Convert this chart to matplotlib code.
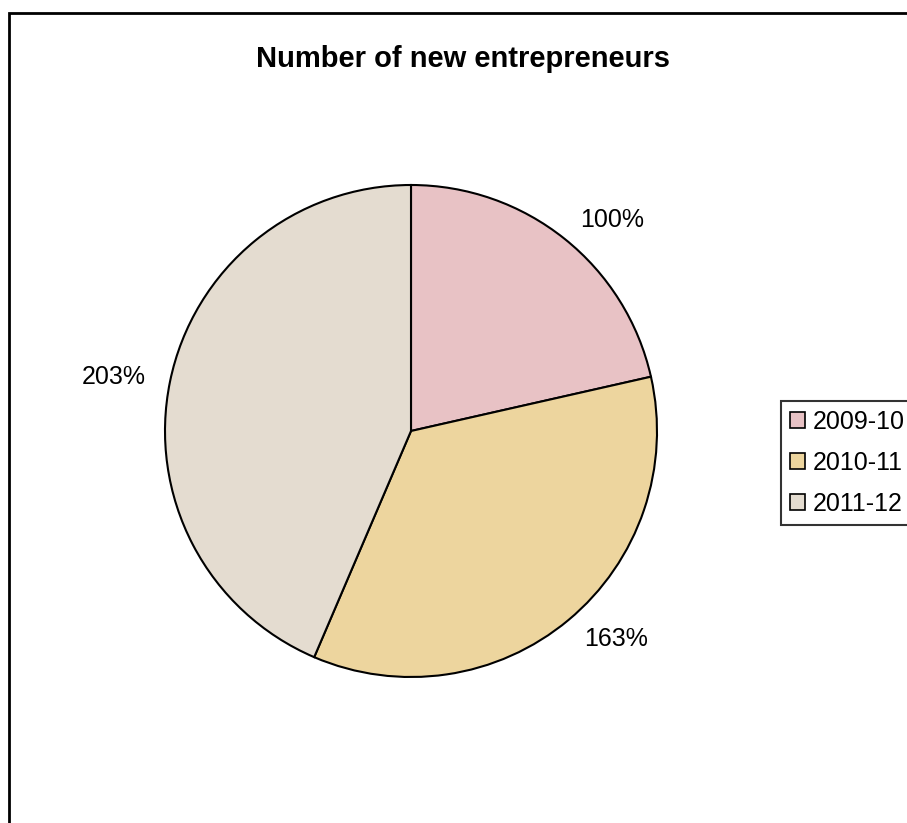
import matplotlib
matplotlib.use('Agg')
from matplotlib import pyplot as plt
from matplotlib.patches import Rectangle

plt.rcParams['font.family'] = ['Liberation Sans', 'DejaVu Sans']

years = ['2009-10', '2010-11', '2011-12']
new_entrepreneurs = [100, 163, 203]
colors = ['#E8C2C5', '#EDD59E', '#E4DCD0']

# labels are shown relative to the first year
labels = ['%d%%' % round(100 * v / new_entrepreneurs[0]) for v in new_entrepreneurs]

fig = plt.figure(figsize=(9.07, 8.23), dpi=100)

# chart area border (runs off the right and bottom edges)
fig.patches.append(Rectangle((9 / 907, -0.05), 1.05, 1 - 13 / 823 + 0.05,
                             transform=fig.transFigure, fill=False,
                             edgecolor='black', linewidth=2))

ax = fig.add_axes([(411 - 246) / 907, 1 - (431 + 246) / 823, 492 / 907, 492 / 823])
wedges, texts = ax.pie(new_entrepreneurs, labels=labels, colors=colors,
                       startangle=90, counterclock=False, labeldistance=1.1,
                       wedgeprops={'edgecolor': 'black', 'linewidth': 1.5},
                       textprops={'fontsize': 18})
ax.set_xlim(-1, 1)
ax.set_ylim(-1, 1)
ax.set_aspect('equal')

fig.text(0.51, 1 - 67 / 823, 'Number of new entrepreneurs', ha='center', va='baseline',
         fontsize=21, fontweight='bold')

leg = fig.legend(wedges, years, loc='upper left', bbox_to_anchor=(781 / 907, 1 - 401 / 823),
                 fontsize=18, frameon=True, fancybox=False, handlelength=0.6,
                 handleheight=0.6, handletextpad=0.3, borderpad=0.35, labelspacing=0.68,
                 borderaxespad=0)
leg.get_frame().set_edgecolor('black')
leg.get_frame().set_linewidth(1.5)
for h in leg.legend_handles:
    h.set_linewidth(1.2)

fig.savefig('out.png', dpi=100)
